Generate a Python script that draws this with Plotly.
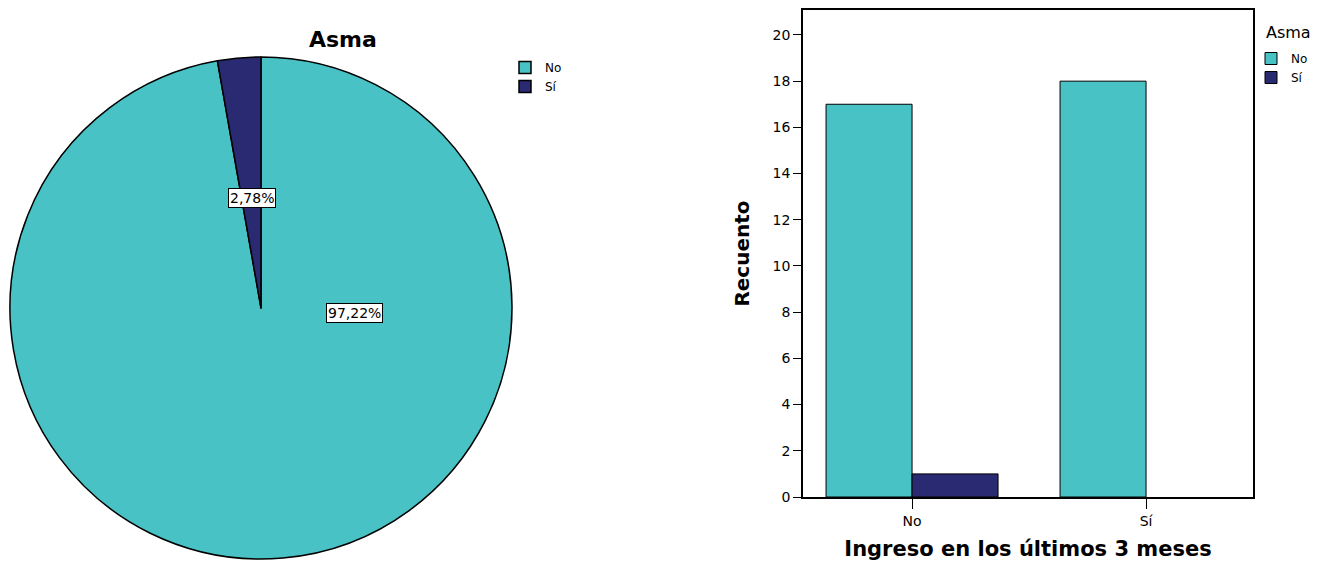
import plotly.graph_objects as go

# Data
asma_labels = ["No", "Sí"]
asma_counts = [35, 1]
ingreso_categories = ["No", "Sí"]
bar_no = [17, 18]
bar_si = [1, 0]
y_ticks = list(range(0, 21, 2))

TEAL = "#48C2C5"
NAVY = "#2A2A72"
FONT = "DejaVu Sans"

W, H = 1330, 573
S = 573 / 565  # vertical compensation of the capture


def px(x):
    return x / W


def py(y):
    return 1 - (y * S) / H


fig = go.Figure()

fig.add_trace(go.Pie(
    labels=asma_labels, values=asma_counts, sort=False, direction="clockwise", rotation=0,
    marker=dict(colors=[TEAL, NAVY], line=dict(color="black", width=1.5)),
    textinfo="none", hoverinfo="label+percent",
    domain=dict(x=[px(10), px(512)], y=[max(py(559), 0), py(57)]),
    legend="legend", showlegend=True,
))

fig.add_trace(go.Bar(
    x=ingreso_categories, y=bar_no, name="No",
    marker=dict(color=TEAL, line=dict(color="black", width=1)),
    legend="legend2",
))
fig.add_trace(go.Bar(
    x=ingreso_categories, y=bar_si, name="Sí",
    marker=dict(color=NAVY, line=dict(color="black", width=[1 if v else 0 for v in bar_si])),
    legend="legend2",
))

total = sum(asma_counts)
pcts = [f"{v / total * 100:.2f}%".replace(".", ",") for v in asma_counts]
label_pos = [(354, 313), (252, 198)]
for txt, (lx, ly) in zip(pcts, label_pos):
    fig.add_annotation(
        x=px(lx), y=py(ly), xref="paper", yref="paper", text=txt, showarrow=False,
        xanchor="center", yanchor="middle",
        font=dict(family=FONT, size=14, color="black"),
        bgcolor="white", bordercolor="black", borderwidth=1, borderpad=1,
    )

fig.add_annotation(
    x=px(343), y=py(39), xref="paper", yref="paper", text="<b>Asma</b>",
    xanchor="center", yanchor="middle",
    showarrow=False, font=dict(family=FONT, size=22, color="black"),
)
fig.add_annotation(
    x=px(1264), y=py(32), xref="paper", yref="paper", text="Asma",
    xanchor="left", yanchor="middle",
    showarrow=False, font=dict(family=FONT, size=16, color="black"),
)

fig.update_layout(
    width=W, height=H,
    margin=dict(l=0, r=0, t=0, b=0),
    paper_bgcolor="white", plot_bgcolor="white",
    font=dict(family=FONT, color="black"),
    barmode="group", bargap=0.265, bargroupgap=0,
    legend=dict(x=px(505), y=py(53), xanchor="left", yanchor="top",
                bgcolor="rgba(0,0,0,0)",
                font=dict(size=12), tracegroupgap=0, itemwidth=30),
    legend2=dict(x=px(1251), y=py(44), xanchor="left", yanchor="top",
                 bgcolor="rgba(0,0,0,0)",
                 font=dict(size=12), itemwidth=30),
    xaxis=dict(domain=[px(803), px(1253)], range=[-0.466, 1.457],
               showline=True, linecolor="black", linewidth=1.5, mirror=True,
               ticks="outside", ticklen=10, tickcolor="black",
               tickfont=dict(size=14),
               title=dict(text="<b>Ingreso en los últimos 3 meses</b>", font=dict(size=21), standoff=14),
               showgrid=False, zeroline=False),
    yaxis=dict(domain=[py(497), py(10)], range=[0, 21.08],
               tickvals=y_ticks,
               showline=True, linecolor="black", linewidth=1.5, mirror=True,
               ticks="outside", ticklen=8, tickcolor="black",
               tickfont=dict(size=14),
               title=dict(text="<b>Recuento</b>", font=dict(size=20), standoff=18),
               showgrid=False, zeroline=False),
)

fig.write_html(
    "out.html",
    config={"displayModeBar": False},
    post_script=(
        "document.documentElement.style.margin='0px';"
        "document.body.style.margin='0px';"
        "document.documentElement.style.overflow='hidden';"
        "document.body.style.overflow='hidden';"
    ),
)
